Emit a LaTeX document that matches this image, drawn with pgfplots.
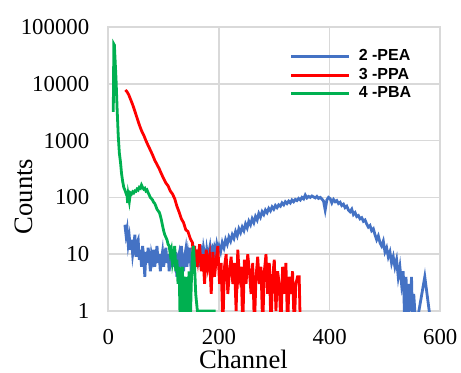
\documentclass[border=0pt]{standalone}
\usepackage{pgfplots}
\pgfplotsset{compat=1.18}
\usepackage{fontspec}
\setmainfont{Liberation Serif}
\newfontfamily\legfont{Liberation Sans}
\definecolor{cblue}{HTML}{4472C4}
\definecolor{cred}{HTML}{FF0000}
\definecolor{cgreen}{HTML}{00B050}
\definecolor{cgrid}{HTML}{D9D9D9}
\begin{document}
\begin{tikzpicture}
\useasboundingbox (-54.15pt,-30.5pt) rectangle (176.35pt,155.5pt);
\begin{axis}[
  at={(0pt,0pt)}, anchor=south west,
  width=166pt, height=142pt, scale only axis,
  ymode=log, ymin=1, ymax=100000,
  xmin=0, xmax=600,
  xtick={0,200,400,600}, xticklabels={0,200,400,600},
  ytick={1,10,100,1000,10000,100000},
  yticklabels={1,10,100,1000,10000,100000},
  minor ytick={}, yminorticks=false,
  major tick length=0pt,
  grid=major,
  grid style={cgrid, line width=0.8pt},
  axis line style={cgrid, line width=0.8pt},
  tick label style={font=\fontsize{11.4}{13}\selectfont, black},
  yticklabel style={xshift=-6pt},
  xticklabel style={inner sep=0pt, yshift=-9.2pt},
  xlabel={Channel}, ylabel={Counts},
  label style={font=\fontsize{13.3}{15}\selectfont},
  xlabel style={at={(axis description cs:0.407,0)}, anchor=base, inner sep=0pt, yshift=-28.7pt},
  ylabel style={at={(axis description cs:-0.253,0.403)}, anchor=center, rotate=0},
  legend image code/.code={\draw[#1, line width=1.5pt] (0pt,0pt) -- (29pt,0pt);},
  legend style={at={(axis description cs:0.5275,0.94)}, anchor=north west,
    draw=none, fill=none, font=\legfont\bfseries\fontsize{8}{8.5}\selectfont,
    nodes={inner sep=0.5pt, anchor=west}, row sep=1.2pt, column sep=3.5pt},
  legend cell align=left,
  clip=true,
]
\addplot[cblue, line width=1.4pt] coordinates {
(30,33)(32,22)(34,28)(36,15)(38,20)(40,12)(42,18)(44,10)(46,14)(48,22)
(50,9)(52,16)(54,18)(56,8)(58,12)(60,6)(62,14)(64,9)(66,4)(68,11)
(70,7)(72,13)(74,9)(76,5)(78,10)(80,8)(82,12)(84,6)(86,9)(88,14)
(90,7)(92,10)(94,5)(96,8)(98,11)(100,6)(102,9)(104,13)(106,7)(108,10)
(110,5)(112,8)(114,12)(116,6)(118,9)(120,7)(122,11)(124,4)(126,8)(128,10)
(130,6)(132,14)(134,8)(136,5)(138,9)(140,12)(142,6)(144,10)(146,7)(148,13)
(150,4)(152,9)(154,11)(156,7)(158,10)(160,8)(162,12)(164,6)(166,9)(168,11)
(170,8)(172,13)(174,10)(176,7)(178,12)(180,9)(182,11)(184,14)(186,10)(188,12)
(190,9)(192,13)(194,11)(196,15)(198,12)(200,14)(203,11)(206,16)(209,13)(212,18)
(215,15)(218,20)(221,17)(224,22)(227,19)(230,25)(233,21)(236,28)(239,24)(242,30)
(245,26)(248,34)(251,29)(254,38)(257,33)(260,42)(263,36)(266,46)(269,40)(272,52)
(275,45)(278,56)(281,50)(284,60)(287,54)(290,64)(293,58)(296,68)(299,62)(302,72)
(305,66)(308,74)(311,70)(314,80)(317,74)(320,84)(323,78)(326,86)(329,80)(332,90)
(335,84)(338,92)(341,88)(344,96)(347,90)(350,100)(353,94)(356,110)(359,98)(362,104)
(365,100)(368,106)(371,102)(374,98)(377,104)(380,96)(383,100)(386,94)(389,86)(392,60)
(395,90)(398,100)(401,95)(404,80)(407,92)(410,84)(413,88)(416,78)(419,82)(422,72)
(425,76)(428,66)(431,70)(434,60)(437,56)(440,62)(443,50)(446,54)(449,46)(452,48)
(455,42)(458,44)(461,38)(464,40)(467,34)(470,30)(473,32)(476,26)(479,28)(482,22)
(485,18)(488,21)(491,16)(494,14)(497,17)(500,11)(503,13)(506,9)(509,11)(512,7)
(515,9)(518,6)(521,8)(524,4)(527,6)(530,3)(533,5)(536,0.5)(538,4)(540,1.5)
(542,0.5)(544,3)(546,1)(548,4)(550,0.5)(552,2)(554,1)(556,0.5)(572,4)(584,0.5)
};
\addlegendentry{2 -PEA}
\addplot[cred, line width=1.4pt] coordinates {
(31,7800)(34,7200)(37,6400)(40,5400)(44,4300)(48,3300)(52,2500)(56,1900)(60,1500)(64,1250)
(68,1000)(72,820)(76,680)(80,560)(84,450)(88,380)(92,320)(96,260)(100,215)(104,180)
(108,160)(112,130)(116,115)(120,95)(124,70)(128,55)(132,42)(136,36)(140,27)(144,25)
(148,19)(152,16)(154,9)(156,14)(158,6)(160,12)
(162,8)(165,15)(168,5)(171,10)(174,3)(177,12)(180,6)(183,9)(186,2)(189,11)
(192,4)(195,8)(198,14)(201,3)(204,7)(207,0.5)(210,6)(213,10)(216,2)(219,5)
(222,9)(225,3)(228,7)(231,1)(234,12)(237,4)(240,6)(243,0.5)(246,8)(249,3)
(252,10)(255,5)(258,2)(261,7)(264,0.5)(267,4)(270,9)(273,3)(276,6)(279,0.5)
(282,5)(285,10)(288,2)(291,7)(294,0.5)(297,4)(300,8)(303,1)(306,5)(309,3)
(312,0.5)(315,6)(318,2)(321,7)(324,0.5)(327,4)(330,2)(333,5)(336,0.5)(339,3)
(342,4)(345,4)(347,0.5)
};
\addlegendentry{3 -PPA}
\addplot[cgreen, line width=1.4pt] coordinates {
(9,3200)(10,50000)(11,48000)(12,30000)(14,12000)(16,3500)(18,1200)(20,600)(22,420)(24,260)
(26,190)(28,150)(30,135)(32,118)(34,105)(35,80)(36,110)(38,85)(40,120)(42,115)
(44,125)(46,120)(48,130)(50,128)(52,140)(54,135)(56,150)(58,145)(60,165)(62,150)
(64,140)(66,145)(68,130)(70,135)(72,120)(74,110)(76,100)(78,95)(80,90)(82,82)
(84,78)(86,70)(88,62)(90,58)(92,55)(94,48)(96,40)(98,32)(100,26)(102,22)
(104,20)(106,18)(108,15)(110,14)(112,10)(114,12)(116,7)(118,9)(120,14)(122,5)
(124,8)(126,3)(128,6)(130,0.5)(132,3)(134,6)(136,0.5)(138,2)(140,4)(142,0.5)
(144,1.5)(146,5)(148,0.5)(150,3)(152,10)(154,14)(156,6)(158,2)(161,1)(194,1)
};
\addlegendentry{4 -PBA}
\end{axis}
\end{tikzpicture}
\end{document}
